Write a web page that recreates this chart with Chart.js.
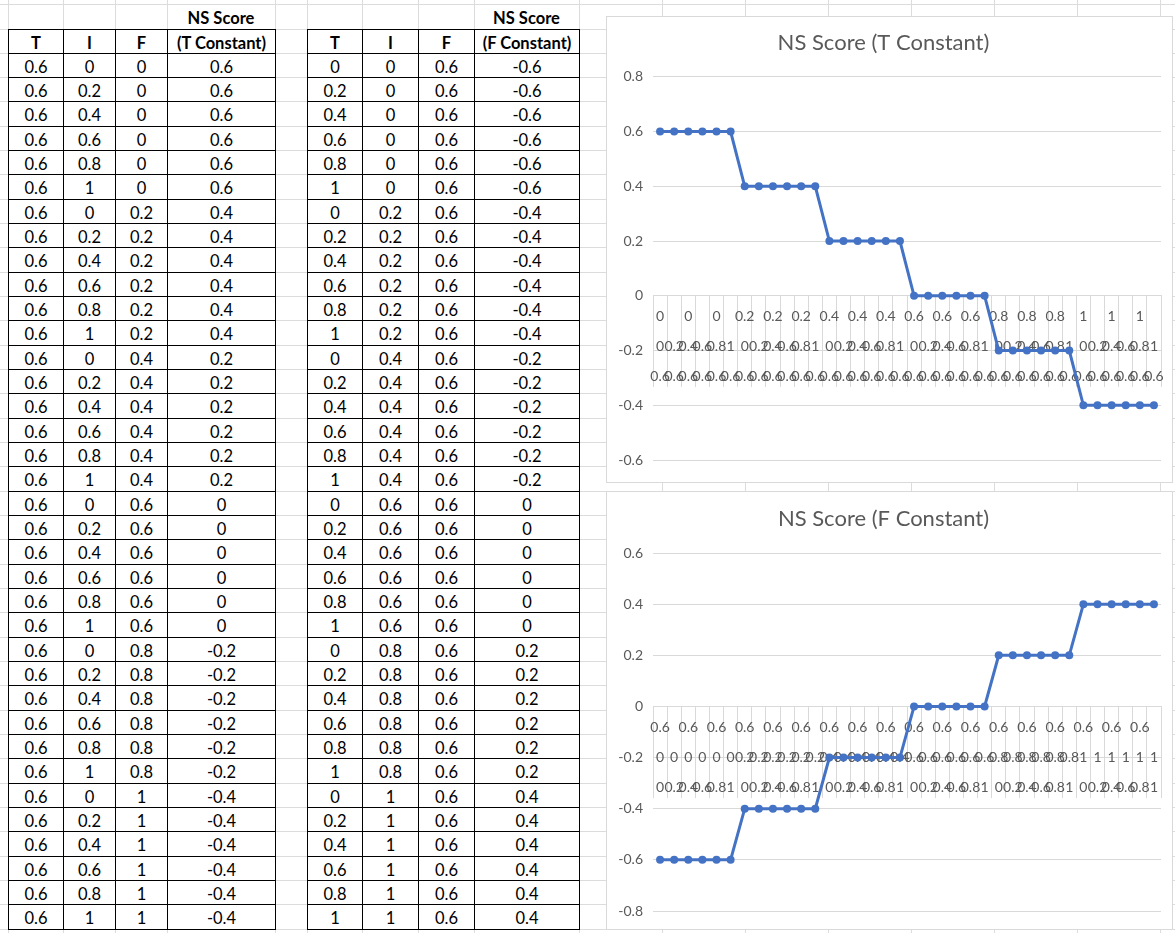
<!DOCTYPE html>
<html>
<head>
<meta charset="utf-8">
<title>NS Score</title>
<script src="https://cdn.jsdelivr.net/npm/chart.js@4.4.1/dist/chart.umd.min.js"></script>
<style>
  html, body { margin:0; padding:0; background:#fff; }
  body { position:relative; width:1175px; height:933px; overflow:hidden; font-family: Lato, "Noto Sans", sans-serif; }
  .gh { position:absolute; left:0; width:1175px; height:1px; background:#dcdcdc; z-index:0; }
  .gv { position:absolute; top:0; width:1px; height:933px; background:#dcdcdc; z-index:0; }
  .cell { position:absolute; box-sizing:border-box; border:1px solid #000; background:#fff; display:flex; align-items:center; justify-content:center; font-size:16.5px; color:#000; padding-top:2px; white-space:nowrap; z-index:1; }
  .cell.head { font-weight:bold; font-size:16.5px; }
  .cap { position:absolute; box-sizing:border-box; display:flex; align-items:center; justify-content:center; font-size:16.5px; font-weight:bold; padding-top:2px; white-space:nowrap; z-index:1; }
  .chart { position:absolute; background:#fff; z-index:2; }
  .chart canvas { position:absolute; left:0; top:0; }
  .chart .frame { position:absolute; left:0; top:0; right:0; bottom:0; border:1px solid #d9d9d9; pointer-events:none; }
</style>
</head>
<body>
<div class="chart" style="left:606px;top:16px;width:567px;height:467px;"><canvas id="chartT" width="567" height="467"></canvas><div class="frame"></div></div>
<div class="chart" style="left:606px;top:491px;width:567px;height:439px;"><canvas id="chartF" width="567" height="439"></canvas><div class="frame"></div></div>
<script>
// ---- Data: NS score with T held constant ----
const tConstT = [0.6,0.6,0.6,0.6,0.6,0.6, 0.6,0.6,0.6,0.6,0.6,0.6, 0.6,0.6,0.6,0.6,0.6,0.6,
                 0.6,0.6,0.6,0.6,0.6,0.6, 0.6,0.6,0.6,0.6,0.6,0.6, 0.6,0.6,0.6,0.6,0.6,0.6];
const tConstI = [0,0.2,0.4,0.6,0.8,1, 0,0.2,0.4,0.6,0.8,1, 0,0.2,0.4,0.6,0.8,1,
                 0,0.2,0.4,0.6,0.8,1, 0,0.2,0.4,0.6,0.8,1, 0,0.2,0.4,0.6,0.8,1];
const tConstF = [0,0,0,0,0,0, 0.2,0.2,0.2,0.2,0.2,0.2, 0.4,0.4,0.4,0.4,0.4,0.4,
                 0.6,0.6,0.6,0.6,0.6,0.6, 0.8,0.8,0.8,0.8,0.8,0.8, 1,1,1,1,1,1];
const tConstScore = [0.6,0.6,0.6,0.6,0.6,0.6, 0.4,0.4,0.4,0.4,0.4,0.4, 0.2,0.2,0.2,0.2,0.2,0.2,
                     0,0,0,0,0,0, -0.2,-0.2,-0.2,-0.2,-0.2,-0.2, -0.4,-0.4,-0.4,-0.4,-0.4,-0.4];

// ---- Data: NS score with F held constant ----
const fConstT = [0,0.2,0.4,0.6,0.8,1, 0,0.2,0.4,0.6,0.8,1, 0,0.2,0.4,0.6,0.8,1,
                 0,0.2,0.4,0.6,0.8,1, 0,0.2,0.4,0.6,0.8,1, 0,0.2,0.4,0.6,0.8,1];
const fConstI = [0,0,0,0,0,0, 0.2,0.2,0.2,0.2,0.2,0.2, 0.4,0.4,0.4,0.4,0.4,0.4,
                 0.6,0.6,0.6,0.6,0.6,0.6, 0.8,0.8,0.8,0.8,0.8,0.8, 1,1,1,1,1,1];
const fConstF = [0.6,0.6,0.6,0.6,0.6,0.6, 0.6,0.6,0.6,0.6,0.6,0.6, 0.6,0.6,0.6,0.6,0.6,0.6,
                 0.6,0.6,0.6,0.6,0.6,0.6, 0.6,0.6,0.6,0.6,0.6,0.6, 0.6,0.6,0.6,0.6,0.6,0.6];
const fConstScore = [-0.6,-0.6,-0.6,-0.6,-0.6,-0.6, -0.4,-0.4,-0.4,-0.4,-0.4,-0.4, -0.2,-0.2,-0.2,-0.2,-0.2,-0.2,
                     0,0,0,0,0,0, 0.2,0.2,0.2,0.2,0.2,0.2, 0.4,0.4,0.4,0.4,0.4,0.4];

// Column headings
const colHeads = ['T', 'I', 'F'];
const scoreHeadTop = 'NS Score';
const scoreHeadT = '(T Constant)';
const scoreHeadF = '(F Constant)';
const titleT = 'NS Score (T Constant)';
const titleF = 'NS Score (F Constant)';

// ---- Worksheet layout ----
const ROW_H = 24.33;
const TABLE_TOP = 28.5;
const sheetCols = [8, 63, 115, 167, 275, 307, 362, 418, 474, 579, 662, 745, 828, 911, 994, 1077, 1160];
const table1Cols = [8, 63, 115, 167, 275];
const table2Cols = [307, 362, 418, 474, 579];
const rowEdge = k => Math.round(TABLE_TOP + k * ROW_H);

function el(cls, style, text) {
  const d = document.createElement('div');
  d.className = cls;
  Object.assign(d.style, style);
  if (text !== undefined) d.textContent = text;
  document.body.appendChild(d);
  return d;
}

// sheet gridlines
for (let k = -1; k <= 37; k++) el('gh', { top: rowEdge(k) + 'px' });
sheetCols.forEach(x => el('gv', { left: x + 'px' }));

function fmt(v) { return String(Math.round(v * 10) / 10); }

function drawTable(cols, T, I, F, S, scoreHead) {
  // heading above the score column
  el('cap', { left: cols[3] + 'px', top: rowEdge(-1) + 'px', width: (cols[4] - cols[3]) + 'px',
              height: (rowEdge(0) - rowEdge(-1)) + 'px' }, scoreHeadTop);
  const heads = colHeads.concat([scoreHead]);
  const rows = [heads].concat(S.map((s, i) => [fmt(T[i]), fmt(I[i]), fmt(F[i]), fmt(s)]));
  rows.forEach((r, ri) => {
    r.forEach((txt, ci) => {
      el('cell' + (ri === 0 ? ' head' : ''), {
        left: cols[ci] + 'px', top: rowEdge(ri) + 'px',
        width: (cols[ci + 1] - cols[ci] + 1) + 'px',
        height: (rowEdge(ri + 1) - rowEdge(ri) + 1) + 'px'
      }, txt);
    });
  });
}
drawTable(table1Cols, tConstT, tConstI, tConstF, tConstScore, scoreHeadT);
drawTable(table2Cols, fConstT, fConstI, fConstF, fConstScore, scoreHeadF);

// ---- Charts ----
const LINE = '#4472C4';
const GRID = '#d9d9d9';
const TEXT = '#595959';
const FONT = 'Lato, "Noto Sans", sans-serif';

function makeChart(id, title, T, I, F, S, yMin, yMax, lay) {
  // three-level category labels: F (every other), I, T
  const labels = S.map((_, i) => [i % 2 === 0 ? fmt(F[i]) : '', fmt(I[i]), fmt(T[i])]);
  return new Chart(document.getElementById(id), {
    type: 'line',
    data: {
      labels,
      datasets: [{
        data: S,
        borderColor: LINE, backgroundColor: LINE,
        borderWidth: 3, tension: 0, fill: false,
        pointRadius: 4, pointHoverRadius: 4, pointBorderWidth: 0,
        pointBackgroundColor: LINE
      }]
    },
    options: {
      responsive: false, animation: false, events: [],
      layout: { padding: { left: 0, right: 12, top: 0, bottom: lay.bottom } },
      plugins: {
        legend: { display: false },
        tooltip: { enabled: false },
        title: {
          display: true, text: title, color: TEXT,
          font: { family: FONT, size: 22, weight: 'normal', lineHeight: 1.2 },
          padding: { top: lay.titleTop, bottom: lay.titleBottom }
        }
      },
      scales: {
        x: {
          type: 'category', position: { y: 0 }, offset: true,
          grid: { offset: true, drawOnChartArea: false, drawTicks: true, tickLength: 91,
                  color: GRID, tickColor: GRID, lineWidth: 1 },
          border: { display: true, color: GRID },
          ticks: { autoSkip: false, maxRotation: 0, minRotation: 0, padding: -85, color: TEXT,
                   font: { family: FONT, size: 14, lineHeight: '30px' } }
        },
        y: {
          min: yMin, max: yMax,
          grid: { color: GRID, drawTicks: false },
          border: { display: false },
          ticks: { stepSize: 0.2, padding: 10, color: TEXT, font: { family: FONT, size: 14 },
                   callback: v => fmt(v) },
          afterFit: s => { s.width = 47; }
        }
      }
    }
  });
}

makeChart('chartT', titleT, tConstT, tConstI, tConstF, tConstScore, -0.6, 0.8,
          { bottom: 23, titleTop: 14, titleBottom: 20.4 });
makeChart('chartF', titleF, fConstT, fConstI, fConstF, fConstScore, -0.8, 0.6,
          { bottom: 19, titleTop: 15, titleBottom: 20.6 });
</script>
</body>
</html>
